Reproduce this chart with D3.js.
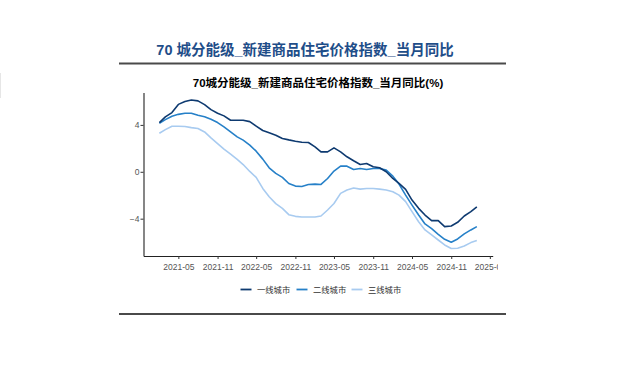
<!DOCTYPE html>
<html>
<head>
<meta charset="utf-8">
<script src="https://cdn.jsdelivr.net/npm/d3@7"></script>
<style>
  body { margin: 0; background: #fff; }
  svg { display: block; font-family: "Liberation Sans", Arial, "Noto Sans CJK SC", sans-serif; }
</style>
</head>
<body>
<script>
'use strict';

// months from 2021-02 to 2025-03
const startMonth = "2021-02";
const monthCount = 50;

// series values (%)
const tier1 = [4.2, 4.68, 5.05, 5.75, 6.0, 6.13, 6.05, 5.73, 5.3, 5.0,
  4.77, 4.4, 4.4, 4.4, 4.28, 3.9, 3.52, 3.32, 3.12, 2.84,
  2.72, 2.61, 2.52, 2.5, 2.13, 1.7, 1.7, 2.04, 1.7, 1.28,
  0.94, 0.62, 0.71, 0.43, 0.34, 0.0, -0.57, -0.99, -1.5, -2.41,
  -3.12, -3.69, -4.17, -4.17, -4.68, -4.62, -4.31, -3.77, -3.4, -3.0];
const tier2 = [4.14, 4.45, 4.74, 4.9, 4.99, 5.0, 4.82, 4.7, 4.48, 4.2,
  3.83, 3.4, 2.98, 2.7, 2.27, 1.76, 1.08, 0.34, -0.14, -0.48,
  -1.0, -1.22, -1.25, -1.08, -1.05, -1.08, -0.57, 0.06, 0.48, 0.48,
  0.2, 0.28, 0.2, 0.28, 0.28, 0.14, -0.37, -1.05, -1.99, -2.84,
  -3.69, -4.45, -4.85, -5.33, -5.76, -6.01, -5.73, -5.3, -4.96, -4.68];
const tier3 = [3.29, 3.6, 3.89, 3.89, 3.86, 3.77, 3.69, 3.4, 2.89, 2.41,
  1.93, 1.5, 1.05, 0.62, 0.03, -0.48, -1.42, -2.13, -2.72, -3.12,
  -3.66, -3.8, -3.86, -3.86, -3.86, -3.77, -3.26, -2.7, -1.84, -1.56,
  -1.39, -1.48, -1.42, -1.42, -1.48, -1.56, -1.7, -1.99, -2.55, -3.4,
  -4.26, -4.96, -5.39, -5.82, -6.24, -6.55, -6.52, -6.33, -6.04, -5.87];

const seriesNames = ["一线城市", "二线城市", "三线城市"];
const seriesColors = ["#0e3a70", "#2680c8", "#a8cbf0"];
const yTicks = [-4, 0, 4];
const xTickLabels = ["2021-05", "2021-11", "2022-05", "2022-11", "2023-05",
  "2023-11", "2024-05", "2024-11", "2025-05"];

const headerTitle = "70 城分能级_新建商品住宅价格指数_当月同比";
const chartTitle = "70城分能级_新建商品住宅价格指数_当月同比(%)";

const width = 640, height = 369;
const parseMonth = d3.timeParse("%Y-%m");
const fmtMonth = d3.timeFormat("%Y-%m");

const months = d3.range(monthCount).map(i => d3.timeMonth.offset(parseMonth(startMonth), i));
const allSeries = [tier1, tier2, tier3];

const svg = d3.select("body").append("svg")
  .attr("width", width)
  .attr("height", height);

// faint edge mark at far left
svg.append("line")
  .attr("x1", 0.5).attr("x2", 0.5).attr("y1", 73).attr("y2", 98)
  .attr("stroke", "#e6e6e6");

// header
svg.append("text")
  .attr("x", 305)
  .attr("y", 55)
  .attr("text-anchor", "middle")
  .style("font-size", "14.5px")
  .style("font-weight", "bold")
  .style("fill", "#1f4e89")
  .text(headerTitle);

svg.append("line")
  .attr("x1", 119).attr("x2", 506).attr("y1", 63.5).attr("y2", 63.5)
  .attr("stroke", "#4a4a4a").attr("stroke-width", 1.8);

svg.append("line")
  .attr("x1", 119).attr("x2", 506).attr("y1", 314).attr("y2", 314)
  .attr("stroke", "#4a4a4a").attr("stroke-width", 1.8);

// chart title
svg.append("text")
  .attr("x", 318)
  .attr("y", 87)
  .attr("text-anchor", "middle")
  .style("font-size", "11.5px")
  .style("font-weight", "bold")
  .style("fill", "#000")
  .text(chartTitle);

// scales, with ggplot-like 5% expansion
const plotLeft = 143.5, plotRight = 492.7, plotTop = 92.5, plotBottom = 256;

const xExt = d3.extent(months);
const xPad = (xExt[1] - xExt[0]) * 0.05;
const xScale = d3.scaleTime()
  .domain([new Date(+xExt[0] - xPad), new Date(+xExt[1] + xPad)])
  .range([plotLeft, plotRight]);

const yMin = d3.min(allSeries, s => d3.min(s));
const yMax = d3.max(allSeries, s => d3.max(s));
const yPad = (yMax - yMin) * 0.05;
const yScale = d3.scaleLinear()
  .domain([yMin - yPad, yMax + yPad])
  .range([plotBottom, plotTop]);

// clip so the last tick label is cut like the picture
svg.append("clipPath").attr("id", "cut")
  .append("rect").attr("x", 0).attr("y", 0).attr("width", 498).attr("height", height);

// lines
const line = d3.line()
  .x((d, i) => xScale(months[i]))
  .y(d => yScale(d));

allSeries.slice().reverse().forEach((s, k) => {
  const idx = allSeries.length - 1 - k;
  svg.append("path")
    .datum(s)
    .attr("d", line)
    .attr("fill", "none")
    .attr("stroke", seriesColors[idx])
    .attr("stroke-width", 1.6)
    .attr("stroke-linejoin", "round");
});

// axes
const xAxis = d3.axisBottom(xScale)
  .tickValues(xTickLabels.map(parseMonth))
  .tickFormat(fmtMonth)
  .tickSize(3)
  .tickSizeOuter(0);

const gx = svg.append("g")
  .attr("transform", "translate(0," + plotBottom + ")")
  .attr("clip-path", "url(#cut)")
  .call(xAxis);

const yAxis = d3.axisLeft(yScale)
  .tickValues(yTicks)
  .tickSize(3)
  .tickSizeOuter(0);

const gy = svg.append("g")
  .attr("transform", "translate(" + plotLeft + ",0)")
  .call(yAxis);

[gx, gy].forEach(g => {
  g.select(".domain").attr("stroke", "#222").attr("stroke-width", 1.1);
  g.selectAll(".tick line").attr("stroke", "#333");
  g.selectAll(".tick text")
    .style("font-size", "8.5px")
    .style("fill", "#555")
    .style("font-family", "'Liberation Sans', Arial, sans-serif");
});
gx.selectAll(".tick text").attr("dy", "0.95em");
gy.selectAll(".tick text").attr("x", -4);

// legend
const legendX = [240.5, 296.5, 351.5];
const legendY = 289.5;
seriesNames.forEach((name, i) => {
  svg.append("line")
    .attr("x1", legendX[i]).attr("x2", legendX[i] + 11)
    .attr("y1", legendY).attr("y2", legendY)
    .attr("stroke", seriesColors[i])
    .attr("stroke-width", 1.8);
  svg.append("text")
    .attr("x", legendX[i] + 16.5)
    .attr("y", legendY + 3)
    .style("font-size", "8.3px")
    .style("fill", "#333")
    .text(name);
});
</script>
</body>
</html>
